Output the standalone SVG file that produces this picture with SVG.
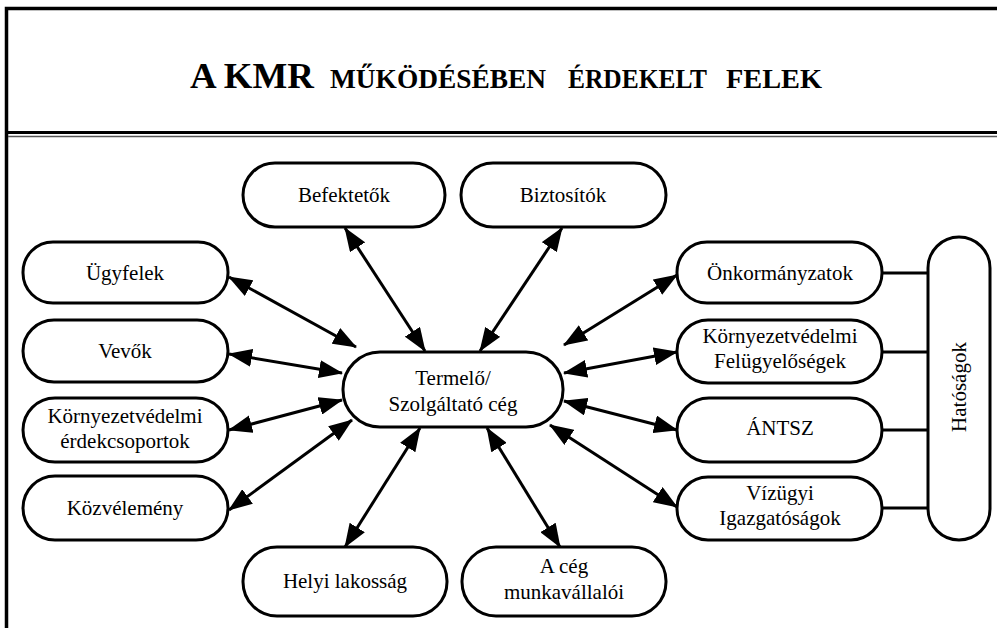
<svg xmlns="http://www.w3.org/2000/svg" width="997" height="628" viewBox="0 0 997 628">
  <defs>
    <style>
      .node { fill: #fff; stroke: #000; stroke-width: 3; }
      .lbl { font-size: 21px; fill: #000; text-anchor: middle; }
      .conn { stroke: #000; stroke-width: 3; fill: none; }
      .arr { marker-start: url(#head); marker-end: url(#head); }
      .title { font-weight: bold; fill: #000; }
    </style>
    <marker id="head" viewBox="0 0 24 18" refX="23" refY="9" markerWidth="24" markerHeight="18" markerUnits="userSpaceOnUse" orient="auto-start-reverse">
      <path d="M0,0 L24,9 L0,18 Z" fill="#000"/>
    </marker>
  </defs>
  <rect width="997" height="628" fill="#fff"/>

  <!-- page frame and header rule -->
  <g id="frame">
    <path d="M6.5,628 V8.5 H997" fill="none" stroke="#000" stroke-width="3.5"/>
    <line x1="6" y1="132.5" x2="997" y2="132.5" stroke="#000" stroke-width="3"/>
    <line x1="8" y1="136.5" x2="997" y2="136.5" stroke="#555" stroke-width="1.5"/>
  </g>

  <g font-family="'Liberation Serif', 'Times New Roman', serif">
  <g id="title">
    <text class="title" x="190" y="88" font-size="36" textLength="124" lengthAdjust="spacingAndGlyphs">A KMR</text>
    <text class="title" x="330" y="88" font-size="28" textLength="216" lengthAdjust="spacingAndGlyphs">MŰKÖDÉSÉBEN</text>
    <text class="title" x="568" y="88" font-size="28" textLength="139" lengthAdjust="spacingAndGlyphs">ÉRDEKELT</text>
    <text class="title" x="726" y="88" font-size="28" textLength="96" lengthAdjust="spacingAndGlyphs">FELEK</text>
  </g>

  <!-- connectors -->
  <g id="connectors">
    <line class="conn arr" x1="229" y1="277" x2="356" y2="347"/>
    <line class="conn arr" x1="229" y1="354" x2="342" y2="373"/>
    <line class="conn arr" x1="229" y1="430" x2="342" y2="400"/>
    <line class="conn arr" x1="229" y1="510" x2="352" y2="420"/>
    <line class="conn arr" x1="345" y1="228" x2="425" y2="351"/>
    <line class="conn arr" x1="562" y1="228" x2="480" y2="351"/>
    <line class="conn arr" x1="420" y1="428" x2="345" y2="547"/>
    <line class="conn arr" x1="487" y1="428" x2="560" y2="547"/>
    <line class="conn arr" x1="564" y1="345" x2="677" y2="275"/>
    <line class="conn arr" x1="564" y1="373" x2="677" y2="352"/>
    <line class="conn arr" x1="564" y1="401" x2="677" y2="430"/>
    <line class="conn arr" x1="550" y1="425" x2="677" y2="507"/>
    <line class="conn" x1="882" y1="273" x2="928" y2="273"/>
    <line class="conn" x1="882" y1="352" x2="928" y2="352"/>
    <line class="conn" x1="882" y1="430" x2="928" y2="430"/>
    <line class="conn" x1="882" y1="508" x2="928" y2="508"/>
  </g>

  <g id="center">
    <rect class="node" x="343" y="352" width="220" height="75" rx="37"/>
    <text class="lbl" x="453" y="385">Termelő/</text>
    <text class="lbl" x="453" y="411">Szolgáltató cég</text>
  </g>

  <g id="befektetok">
    <rect class="node" x="243" y="163" width="202" height="64" rx="32"/>
    <text class="lbl" x="344" y="202">Befektetők</text>
  </g>
  <g id="biztositok">
    <rect class="node" x="461" y="163" width="205" height="64" rx="32"/>
    <text class="lbl" x="563" y="202">Biztosítók</text>
  </g>

  <g id="ugyfelek">
    <rect class="node" x="23" y="242" width="205" height="61" rx="30"/>
    <text class="lbl" x="125" y="280">Ügyfelek</text>
  </g>
  <g id="vevok">
    <rect class="node" x="23" y="320" width="205" height="62" rx="31"/>
    <text class="lbl" x="125" y="358">Vevők</text>
  </g>
  <g id="kv-erdekcsoportok">
    <rect class="node" x="23" y="398" width="205" height="64" rx="32"/>
    <text class="lbl" x="125" y="423">Környezetvédelmi</text>
    <text class="lbl" x="125" y="448">érdekcsoportok</text>
  </g>
  <g id="kozvelemeny">
    <rect class="node" x="23" y="476" width="205" height="64" rx="32"/>
    <text class="lbl" x="125" y="515">Közvélemény</text>
  </g>

  <g id="helyi-lakossag">
    <rect class="node" x="243" y="547" width="204" height="69" rx="34"/>
    <text class="lbl" x="345" y="588">Helyi lakosság</text>
  </g>
  <g id="munkavallalok">
    <rect class="node" x="462" y="547" width="204" height="69" rx="34"/>
    <text class="lbl" x="564" y="573">A cég</text>
    <text class="lbl" x="564" y="599">munkavállalói</text>
  </g>

  <g id="onkormanyzatok">
    <rect class="node" x="677" y="242" width="205" height="61" rx="30"/>
    <text class="lbl" x="780" y="280">Önkormányzatok</text>
  </g>
  <g id="kv-felugyelosegek">
    <rect class="node" x="677" y="320" width="205" height="63" rx="31"/>
    <text class="lbl" x="780" y="343">Környezetvédelmi</text>
    <text class="lbl" x="780" y="368">Felügyelőségek</text>
  </g>
  <g id="antsz">
    <rect class="node" x="677" y="398" width="205" height="64" rx="32"/>
    <text class="lbl" x="780" y="435">ÁNTSZ</text>
  </g>
  <g id="vizugyi">
    <rect class="node" x="677" y="477" width="205" height="63" rx="31"/>
    <text class="lbl" x="780" y="500">Vízügyi</text>
    <text class="lbl" x="780" y="525">Igazgatóságok</text>
  </g>

  <g id="hatosagok">
    <rect class="node" x="928" y="237" width="62" height="303" rx="31"/>
    <text class="lbl" transform="translate(966,387) rotate(-90)" x="0" y="0">Hatóságok</text>
  </g>
  </g>
</svg>
